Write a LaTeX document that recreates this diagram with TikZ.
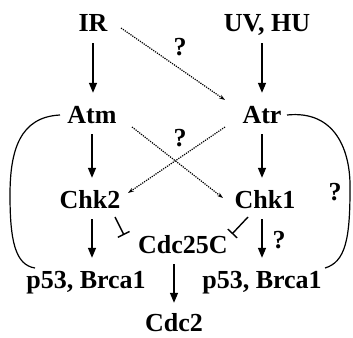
\documentclass[tikz,border=0pt]{standalone}
\usepackage{fontspec}
\setmainfont{Liberation Serif}
\usetikzlibrary{arrows.meta}
\begin{document}
\begin{tikzpicture}[x=1pt,y=-1pt,
  lbl/.style={font=\fontsize{26}{30}\selectfont\bfseries, inner sep=0pt, text height=16pt, text depth=0pt, anchor=base},
  arr/.style={line width=1.5pt, -{Triangle[length=10pt,width=8pt]}, shorten <=11pt, shorten >=14pt},
  dot/.style={line width=1.2pt, dash pattern=on 1.2pt off 1.1pt, -{Stealth[length=6pt,width=4pt]}},
  inh/.style={line width=1.4pt, -{Bar[width=13pt,line width=1.4pt]}},
  loop/.style={line width=1.2pt}]
\useasboundingbox (0,0) rectangle (353,337);
\node[lbl] (IR) at (93,32) {IR};
\node[lbl] (UV) at (267,32) {UV, HU};
\node[lbl] (Atm) at (92,123) {Atm};
\node[lbl] (Atr) at (262,123) {Atr};
\node[lbl] (Chk2) at (90,208) {Chk2};
\node[lbl] (Chk1) at (265,208) {Chk1};
\node[lbl] (Cdc25C) at (183,253) {Cdc25C};
\node[lbl] (pl) at (86,288) {p53, Brca1};
\node[lbl] (pr) at (262,288) {p53, Brca1};
\node[lbl] (Cdc2) at (174,331) {Cdc2};
\node[lbl] (q1) at (180,56) {?};
\node[lbl] (q2) at (180,146) {?};
\node[lbl] (q3) at (335,200) {?};
\node[lbl] (q4) at (279,248) {?};
% solid arrows
\draw[arr] (IR.south) -- (IR.south |- Atm.north);
\draw[arr] (Atr.north |- UV.south) -- (Atr.north);
\draw[arr] (Atm.south) -- (Atm.south |- Chk2.north);
\draw[arr] (Atr.south) -- (Atr.south |- Chk1.north);
\draw[arr] (Atm.south |- Chk2.south) -- (Atm.south |- pl.north);
\draw[arr] (pr.north |- Chk1.south) -- (pr.north);
\draw[arr, shorten >=12pt] (Cdc2.north |- Cdc25C.south) -- (Cdc2.north);
% dotted arrows
\draw[dot] ([shift={(28,4)}]IR.center) -- ([shift={(-37,-15)}]Atr.center);
\draw[dot] ([shift={(40,12)}]Atm.center) -- ([shift={(-42,-2)}]Chk1.center);
\draw[dot] ([shift={(-37,12)}]Atr.center) -- ([shift={(38,-7)}]Chk2.center);
% inhibitions
\draw[inh] ([shift={(25,17)}]Chk2.center) -- ([shift={(-59,-10)}]Cdc25C.center);
\draw[inh] ([shift={(-17,17)}]Chk1.center) -- ([shift={(49,-11)}]Cdc25C.center);
% loops
\draw[loop] ([shift={(-32,0)}]Atm.center) .. controls (20,117) and (10,150) .. (10,195) .. controls (10,240) and (15,265) .. ([shift={(-51,-12)}]pl.center);
\draw[loop] ([shift={(25,0)}]Atr.center) .. controls (335,110) and (351,150) .. (350,190) .. controls (350,240) and (345,262) .. ([shift={(63,-12)}]pr.center);
\end{tikzpicture}
\end{document}
